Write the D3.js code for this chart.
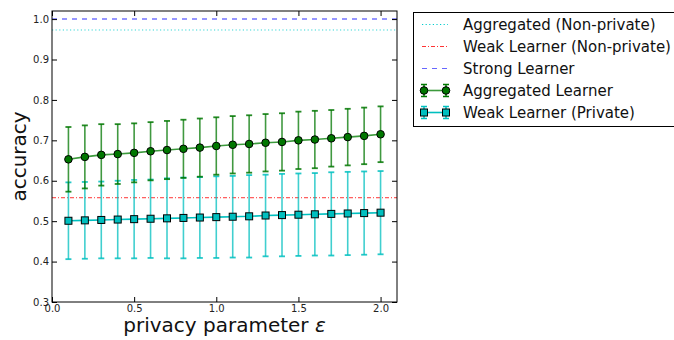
<!DOCTYPE html>
<html lang="en">
<head>
    <meta charset="utf-8">
    <style>
        body { margin: 0; background: white; }
        svg { font-family: "DejaVu Sans", sans-serif; }
    </style>
    <script src="https://d3js.org/d3.v7.min.js"></script>
</head>
<body>
    <svg id="chart" width="674" height="340"></svg>

    <script>
        // Data
        var epsilons = [0.1, 0.2, 0.3, 0.4, 0.5, 0.6, 0.7, 0.8, 0.9, 1.0,
                        1.1, 1.2, 1.3, 1.4, 1.5, 1.6, 1.7, 1.8, 1.9, 2.0];
        var aggMean = [0.653, 0.659, 0.664, 0.666, 0.669, 0.673, 0.676, 0.679, 0.682, 0.686,
                       0.689, 0.691, 0.694, 0.696, 0.700, 0.702, 0.705, 0.708, 0.711, 0.715];
        var aggErr  = [0.080, 0.078, 0.076, 0.074, 0.073, 0.072, 0.072, 0.072, 0.072, 0.071,
                       0.071, 0.071, 0.071, 0.071, 0.071, 0.071, 0.070, 0.070, 0.070, 0.069];
        var weakMean = [0.501, 0.502, 0.503, 0.504, 0.505, 0.506, 0.507, 0.508, 0.509, 0.510,
                        0.511, 0.512, 0.514, 0.515, 0.516, 0.517, 0.518, 0.519, 0.520, 0.521];
        var weakErr  = [0.095, 0.095, 0.095, 0.096, 0.097, 0.097, 0.099, 0.100, 0.100, 0.101,
                        0.101, 0.102, 0.101, 0.102, 0.102, 0.102, 0.103, 0.103, 0.103, 0.103];
        var aggNonPrivate = 0.973;
        var weakNonPrivate = 0.558;
        var strongLearner = 1.0;
        var xTicks = [0.0, 0.5, 1.0, 1.5, 2.0];
        var yTicks = [0.3, 0.4, 0.5, 0.6, 0.7, 0.8, 0.9, 1.0];

        var svg = d3.select("#chart");
        var margin = {left: 52, top: 11, right: 397, bottom: 302};

        var x = d3.scaleLinear().domain([0, 2.1]).range([margin.left, margin.right]);
        var y = d3.scaleLinear().domain([0.3, 1.02]).range([margin.bottom, margin.top]);

        var plot = svg.append("g");

        // reference lines
        plot.append("line")
            .attr("x1", x(0)).attr("x2", x(2.1))
            .attr("y1", y(strongLearner)).attr("y2", y(strongLearner))
            .attr("stroke", "#0000ff").attr("stroke-opacity", 0.55)
            .attr("stroke-width", 1.5).attr("stroke-dasharray", "5,5");
        plot.append("line")
            .attr("x1", x(0)).attr("x2", x(2.1))
            .attr("y1", y(aggNonPrivate)).attr("y2", y(aggNonPrivate))
            .attr("stroke", "#00cccc").attr("stroke-opacity", 0.8)
            .attr("stroke-width", 1).attr("stroke-dasharray", "1.2,2.4");
        plot.append("line")
            .attr("x1", x(0)).attr("x2", x(2.1))
            .attr("y1", y(weakNonPrivate)).attr("y2", y(weakNonPrivate))
            .attr("stroke", "#ff0000").attr("stroke-opacity", 0.8)
            .attr("stroke-width", 1).attr("stroke-dasharray", "4,2,1,2");

        // series helper
        function drawSeries(means, errs, color, lineColor, shape) {
            var g = plot.append("g");
            var pts = epsilons.map(function(e, i) { return {x: e, m: means[i], e: errs[i]}; });

            // error bars
            var eb = g.selectAll(".eb").data(pts).enter().append("g");
            eb.append("line")
                .attr("x1", d => x(d.x)).attr("x2", d => x(d.x))
                .attr("y1", d => y(d.m - d.e)).attr("y2", d => y(d.m + d.e))
                .attr("stroke", color).attr("stroke-width", 1.6).attr("stroke-opacity", 0.75);
            [-1, 1].forEach(function(s) {
                eb.append("line")
                    .attr("x1", d => x(d.x) - 3).attr("x2", d => x(d.x) + 3)
                    .attr("y1", d => y(d.m + s * d.e)).attr("y2", d => y(d.m + s * d.e))
                    .attr("stroke", color).attr("stroke-width", 1.8).attr("stroke-opacity", 0.85);
            });

            // line
            g.append("path").datum(pts)
                .attr("fill", "none").attr("stroke", lineColor).attr("stroke-width", 1.6)
                .attr("d", d3.line().x(d => x(d.x)).y(d => y(d.m)));

            // markers
            if (shape === "circle") {
                g.selectAll(".mk").data(pts).enter().append("circle")
                    .attr("cx", d => x(d.x)).attr("cy", d => y(d.m)).attr("r", 3.8)
                    .attr("fill", color).attr("stroke", "black").attr("stroke-width", 1);
            } else {
                g.selectAll(".mk").data(pts).enter().append("rect")
                    .attr("x", d => x(d.x) - 3.5).attr("y", d => y(d.m) - 3.5)
                    .attr("width", 7).attr("height", 7)
                    .attr("fill", color).attr("stroke", "black").attr("stroke-width", 1);
            }
        }

        drawSeries(weakMean, weakErr, "#00bfbf", "#00bfbf", "square");
        drawSeries(aggMean, aggErr, "#007700", "#3c9a3c", "circle");

        // frame
        svg.append("rect")
            .attr("x", margin.left).attr("y", margin.top)
            .attr("width", margin.right - margin.left).attr("height", margin.bottom - margin.top)
            .attr("fill", "none").attr("stroke", "black").attr("stroke-width", 1);

        // axes with inner ticks on all four sides
        function styleAxis(g) {
            g.select(".domain").remove();
            g.selectAll("text").attr("font-size", 10).attr("fill", "#222")
                .attr("font-family", "DejaVu Sans, sans-serif");
            g.selectAll("line").attr("stroke", "black");
        }
        svg.append("g").attr("transform", "translate(0," + margin.bottom + ")")
            .call(d3.axisBottom(x).tickValues(xTicks).tickFormat(d3.format(".1f"))
                  .tickSizeInner(-5).tickPadding(3))
            .call(styleAxis);
        svg.append("g").attr("transform", "translate(0," + margin.top + ")")
            .call(d3.axisTop(x).tickValues(xTicks).tickSizeInner(-5).tickFormat(""))
            .call(styleAxis);
        svg.append("g").attr("transform", "translate(" + margin.left + ",0)")
            .call(d3.axisLeft(y).tickValues(yTicks).tickFormat(d3.format(".1f"))
                  .tickSizeInner(-5).tickPadding(3))
            .call(styleAxis);
        svg.append("g").attr("transform", "translate(" + margin.right + ",0)")
            .call(d3.axisRight(y).tickValues(yTicks).tickSizeInner(-5).tickFormat(""))
            .call(styleAxis);

        // axis labels
        svg.append("text")
            .attr("transform", "translate(26," + ((margin.top + margin.bottom) / 2) + ") rotate(-90)")
            .attr("text-anchor", "middle").attr("font-size", 20).attr("fill", "#111")
            .text("accuracy");
        var xl = svg.append("text")
            .attr("x", (margin.left + margin.right) / 2).attr("y", 332)
            .attr("text-anchor", "middle").attr("font-size", 20).attr("fill", "#111");
        xl.append("tspan").text("privacy parameter ");
        xl.append("tspan").attr("font-style", "italic").text("ε");

        // legend
        var legendItems = [
            {label: "Aggregated (Non-private)", type: "line", color: "#00cccc", dash: "1.2,2.4"},
            {label: "Weak Learner (Non-private)", type: "line", color: "#ff3333", dash: "4,2,1,2"},
            {label: "Strong Learner", type: "line", color: "#6666ff", dash: "5,5"},
            {label: "Aggregated Learner", type: "circle", color: "#007700", line: "#3c9a3c"},
            {label: "Weak Learner (Private)", type: "square", color: "#00bfbf", line: "#00bfbf"}
        ];
        var lg = svg.append("g");
        lg.append("rect").attr("x", 413.5).attr("y", 12.5).attr("width", 270).attr("height", 114)
            .attr("fill", "white").attr("stroke", "black").attr("stroke-width", 1);
        legendItems.forEach(function(it, i) {
            var cy = 24.5 + i * 22;
            var row = lg.append("g");
            var x1 = 424, x2 = 446;
            if (it.type === "line") {
                row.append("line").attr("x1", x1 - 2).attr("x2", x2 + 2).attr("y1", cy).attr("y2", cy)
                    .attr("stroke", it.color).attr("stroke-width", 1.2)
                    .attr("stroke-dasharray", it.dash);
            } else {
                row.append("line").attr("x1", x1).attr("x2", x2).attr("y1", cy).attr("y2", cy)
                    .attr("stroke", it.line).attr("stroke-width", 1.6);
                [x1, x2].forEach(function(px) {
                    row.append("line").attr("x1", px).attr("x2", px).attr("y1", cy - 6).attr("y2", cy + 6)
                        .attr("stroke", it.color).attr("stroke-width", 1.5);
                    [-6, 6].forEach(function(o) {
                        row.append("line").attr("x1", px - 3).attr("x2", px + 3)
                            .attr("y1", cy + o).attr("y2", cy + o)
                            .attr("stroke", it.color).attr("stroke-width", 1.5);
                    });
                    if (it.type === "circle") {
                        row.append("circle").attr("cx", px).attr("cy", cy).attr("r", 3.8)
                            .attr("fill", it.color).attr("stroke", "black");
                    } else {
                        row.append("rect").attr("x", px - 3.5).attr("y", cy - 3.5)
                            .attr("width", 7).attr("height", 7)
                            .attr("fill", it.color).attr("stroke", "black");
                    }
                });
            }
            row.append("text").attr("x", 463).attr("y", cy + 5)
                .attr("font-size", 15).attr("fill", "#111").text(it.label);
        });
    </script>
</body>
</html>
